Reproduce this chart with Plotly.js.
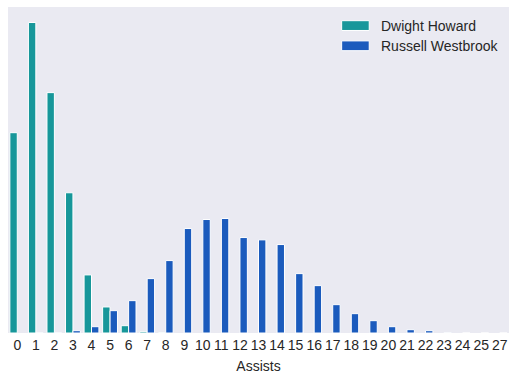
<!DOCTYPE html>
<html>
<head>
<meta charset="utf-8">
<script src="https://cdn.plot.ly/plotly-3.0.1.min.js"></script>
<style>html,body{margin:0;padding:0;background:#fff;}#chart{width:516px;height:379px;}</style>
</head>
<body>
<div id="chart"></div>
<script>
// Categories (assists per game) and relative frequencies
const assists = ["0","1","2","3","4","5","6","7","8","9","10","11","12","13","14","15","16","17","18","19","20","21","22","23","24","25","27"];
const howard = [200, 310, 240, 140, 58, 26, 7.3, 1.3, 0.3, null, null, null, null, null, null, null, null, null, null, null, null, null, null, null, null, null, null];
const westbrook = [null, 0.3, 0.3, 2.3, 6.3, 22.3, 32.3, 54.3, 72.3, 104.3, 113.3, 114.3, 95.3, 93, 88.3, 59.3, 47.3, 28.3, 19.3, 12.3, 6.3, 3.3, 2.3, 0.3, 0, 0, 0];
const names = ["Dwight Howard", "Russell Westbrook"];
const colors = ["#17979a", "#1b5bbd"];

const maxVal = Math.max(...howard.filter(v => v != null), ...westbrook.filter(v => v != null));

const traces = [howard, westbrook].map((vals, i) => ({
  type: 'bar',
  x: assists,
  y: vals,
  name: names[i],
  marker: {color: colors[i], line: {color: '#ffffff', width: 1}},
  hoverinfo: 'x+y+name'
}));

// matplotlib-style legend: wide swatches + labels (paper coordinates)
const legendShapes = [];
const legendAnns = [];
const legTop = [0.958, 0.896];
names.forEach((n, i) => {
  legendShapes.push({
    type: 'rect', xref: 'paper', yref: 'paper',
    x0: 0.666, x1: 0.721, y0: legTop[i] - 0.030, y1: legTop[i],
    fillcolor: colors[i], line: {color: '#ffffff', width: 1}
  });
  legendAnns.push({
    xref: 'paper', yref: 'paper', x: 0.741, y: legTop[i] - 0.016,
    xanchor: 'left', yanchor: 'middle', showarrow: false,
    text: n, font: {size: 14, color: '#262626'}
  });
});

const layout = {
  width: 516,
  height: 379,
  margin: {l: 8, r: 7, t: 7, b: 46},
  paper_bgcolor: '#ffffff',
  plot_bgcolor: '#eaeaf2',
  font: {family: 'Liberation Sans, Arial, sans-serif', size: 14, color: '#262626'},
  barmode: 'group',
  bargap: 0.2,
  bargroupgap: 0,
  showlegend: false,
  shapes: legendShapes,
  annotations: legendAnns,
  xaxis: {
    type: 'category',
    showgrid: false, zeroline: false, showline: false,
    ticks: '', ticklabelstandoff: 2,
    tickfont: {size: 14, color: '#262626'},
    title: {text: 'Assists', font: {size: 14, color: '#262626'}, standoff: 9}
  },
  yaxis: {
    range: [0, maxVal * 1.05],
    showgrid: false, zeroline: false, showline: false,
    showticklabels: false, ticks: ''
  }
};

Plotly.newPlot('chart', traces, layout, {displayModeBar: false, staticPlot: true});
</script>
</body>
</html>
